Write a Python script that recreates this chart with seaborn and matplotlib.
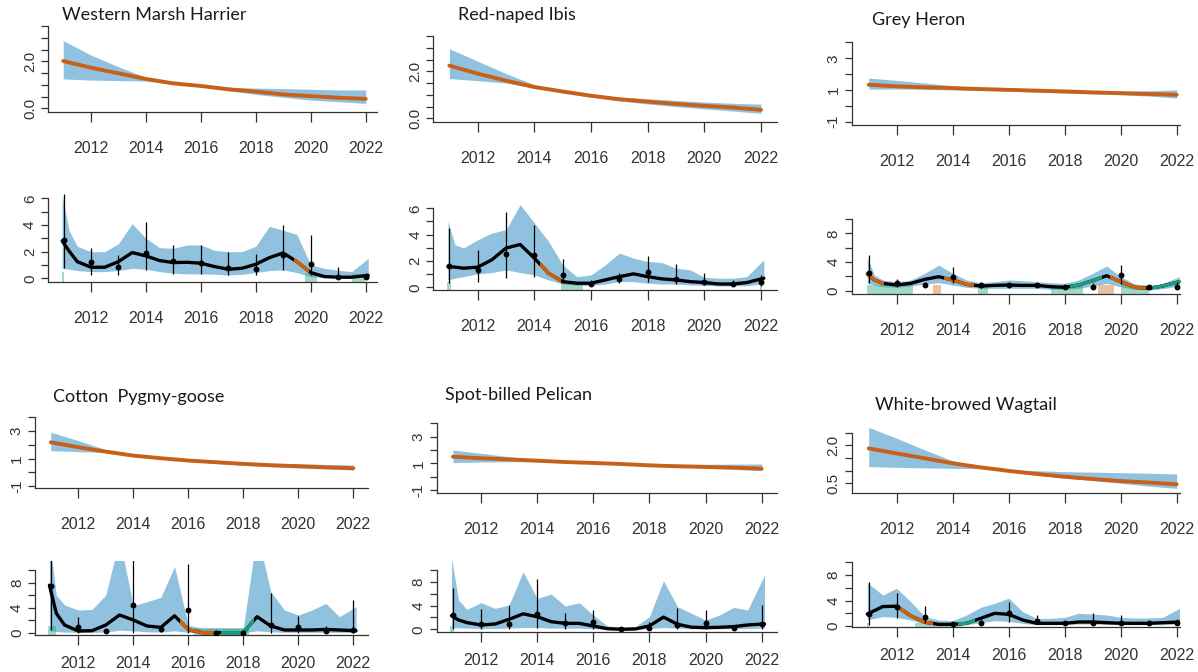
import matplotlib
matplotlib.use("Agg")
import matplotlib.pyplot as plt
from matplotlib.patches import Rectangle
import seaborn as sns

W, H = 1198, 672

# ---------------- data ----------------
TREND_YEARS = [2011, 2012, 2013, 2014, 2015, 2016, 2017, 2018, 2019, 2020, 2021, 2022]
OBS_YEARS = TREND_YEARS
SMOOTH_YEARS = [2010.95, 2011.2, 2011.5, 2012.0, 2012.5, 2013.0, 2013.5, 2014.0,
                2014.5, 2015.0, 2015.5, 2016.0, 2016.5, 2017.0, 2017.5, 2018.0,
                2018.5, 2019.0, 2019.5, 2020.0, 2020.5, 2021.0, 2021.5, 2022.1]
XTICKS = [2012, 2014, 2016, 2018, 2020, 2022]

SPECIES = ["Western Marsh Harrier", "Red-naped Ibis", "Grey Heron",
           "Cotton  Pygmy-goose", "Spot-billed Pelican", "White-browed Wagtail"]

# long-term trend panels
wmh_trend = [2.01, 1.73, 1.49, 1.25, 1.06, 0.95, 0.81, 0.71, 0.59, 0.52, 0.45, 0.40]
wmh_trend_hi = [2.88, 2.27, 1.77, 1.32, 1.10, 0.99, 0.89, 0.86, 0.84, 0.81, 0.78, 0.78]
wmh_trend_lo = [1.25, 1.20, 1.18, 1.16, 1.03, 0.92, 0.75, 0.59, 0.47, 0.35, 0.28, 0.21]

rni_trend = [2.24, 1.90, 1.60, 1.33, 1.14, 0.96, 0.81, 0.71, 0.61, 0.53, 0.46, 0.36]
rni_trend_hi = [2.96, 2.43, 1.90, 1.43, 1.19, 1.01, 0.90, 0.83, 0.76, 0.69, 0.64, 0.60]
rni_trend_lo = [1.69, 1.60, 1.50, 1.29, 1.07, 0.90, 0.74, 0.61, 0.50, 0.40, 0.31, 0.21]

gh_trend = [1.33, 1.23, 1.17, 1.12, 1.06, 1.01, 0.96, 0.91, 0.85, 0.80, 0.75, 0.70]
gh_trend_hi = [1.75, 1.61, 1.44, 1.27, 1.14, 1.06, 1.01, 0.97, 0.95, 0.93, 0.95, 1.01]
gh_trend_lo = [1.06, 1.06, 1.04, 1.01, 0.97, 0.93, 0.87, 0.80, 0.75, 0.70, 0.62, 0.49]

cpg_trend = [2.18, 1.82, 1.50, 1.21, 1.02, 0.85, 0.73, 0.61, 0.51, 0.44, 0.36, 0.29]
cpg_trend_hi = [2.91, 2.30, 1.65, 1.26, 1.04, 0.90, 0.80, 0.70, 0.65, 0.61, 0.57, 0.53]
cpg_trend_lo = [1.57, 1.50, 1.43, 1.16, 0.98, 0.80, 0.65, 0.51, 0.40, 0.31, 0.24, 0.17]

sbp_trend = [1.50, 1.38, 1.30, 1.20, 1.10, 1.03, 0.95, 0.85, 0.78, 0.73, 0.68, 0.60]
sbp_trend_hi = [2.00, 1.75, 1.50, 1.25, 1.12, 1.05, 1.00, 0.95, 0.94, 0.93, 0.94, 0.95]
sbp_trend_lo = [1.05, 1.10, 1.12, 1.12, 1.06, 1.00, 0.90, 0.80, 0.72, 0.65, 0.55, 0.45]

wbw_trend = [1.88, 1.68, 1.49, 1.29, 1.13, 0.99, 0.87, 0.76, 0.67, 0.59, 0.53, 0.46]
wbw_trend_hi = [2.71, 2.28, 1.82, 1.39, 1.16, 1.03, 1.00, 0.96, 0.94, 0.92, 0.90, 0.87]
wbw_trend_lo = [1.16, 1.13, 1.11, 1.09, 1.08, 0.96, 0.83, 0.70, 0.61, 0.50, 0.39, 0.30]

# smoothed index panels
wmh_smooth = [2.8, 2.05, 1.25, 0.83, 0.83, 1.25, 1.93, 1.68, 1.33, 1.18, 1.2, 1.13,
              0.88, 0.68, 0.75, 1.05, 1.55, 1.9, 1.25, 0.43, 0.13, 0.08, 0.08, 0.22]
wmh_smooth_hi = [6.2, 3.6, 2.4, 2.0, 2.0, 2.6, 4.1, 3.0, 2.3, 2.25, 2.5, 2.5,
                 2.1, 2.0, 2.0, 2.4, 3.9, 3.6, 3.3, 1.0, 0.75, 0.6, 0.5, 1.5]
wmh_smooth_lo = [0.75, 0.68, 0.58, 0.5, 0.5, 0.58, 0.75, 0.68, 0.5, 0.38, 0.33, 0.33,
                 0.3, 0.25, 0.3, 0.43, 0.58, 0.63, 0.43, 0.13, 0.05, 0.05, 0.05, 0.12]
wmh_obs = [2.88, 1.25, 0.83, 1.93, 1.3, 1.18, 0.75, 0.7, 1.75, 1.08, 0.08, 0.13]
wmh_obs_lo = [0.75, 0.25, 0.25, 0.63, 0.33, 0.33, 0.25, 0.25, 0.63, 0.25, 0.0, 0.0]
wmh_obs_hi = [6.3, 2.25, 1.75, 4.25, 2.5, 2.5, 2.0, 1.83, 4.0, 3.25, 0.83, 0.38]

rni_smooth = [1.58, 1.53, 1.45, 1.53, 2.09, 2.98, 3.25, 2.21, 1.07, 0.43, 0.31, 0.31,
              0.56, 0.81, 1.02, 0.81, 0.64, 0.56, 0.43, 0.36, 0.25, 0.25, 0.36, 0.69]
rni_smooth_hi = [5.01, 3.23, 2.98, 3.61, 4.12, 4.38, 6.28, 4.89, 3.49, 1.70, 0.81, 0.94,
                 1.70, 2.60, 2.21, 1.96, 1.88, 1.45, 1.32, 0.76, 0.69, 0.69, 0.81, 2.09]
rni_smooth_lo = [0.56, 0.69, 0.81, 1.02, 1.12, 1.32, 1.12, 0.94, 0.56, 0.25, 0.15, 0.15,
                 0.25, 0.43, 0.43, 0.31, 0.25, 0.25, 0.18, 0.15, 0.1, 0.1, 0.13, 0.25]
rni_obs = [1.63, 1.32, 2.55, 2.47, 0.94, 0.25, 0.64, 1.18, 0.64, 0.43, 0.25, 0.43]
rni_obs_lo = [0.36, 0.43, 0.69, 0.81, 0.31, 0.1, 0.31, 0.43, 0.25, 0.15, 0.1, 0.1]
rni_obs_hi = [4.5, 2.8, 5.7, 4.7, 2.15, 0.56, 1.1, 2.4, 1.8, 1.12, 0.56, 0.94]

gh_smooth = [2.33, 1.49, 1.02, 0.79, 1.02, 1.58, 1.95, 1.49, 0.88, 0.65, 0.74, 0.79,
             0.74, 0.74, 0.56, 0.47, 0.79, 1.4, 2.09, 1.26, 0.47, 0.33, 0.65, 1.26]
gh_smooth_hi = [4.65, 2.19, 1.49, 1.26, 1.49, 2.42, 3.58, 2.42, 1.49, 1.12, 1.26, 1.49,
                1.4, 1.26, 1.12, 1.02, 1.49, 2.42, 3.44, 1.95, 0.93, 0.65, 1.02, 1.95]
gh_smooth_lo = [1.02, 0.79, 0.56, 0.47, 0.65, 0.93, 1.12, 0.79, 0.47, 0.33, 0.33, 0.33,
                0.33, 0.33, 0.19, 0.19, 0.33, 0.65, 1.02, 0.56, 0.19, 0.09, 0.28, 0.65]
gh_obs = [2.42, 1.02, 0.79, 1.95, 0.79, 0.74, 0.74, 0.47, 0.56, 2.19, 0.47, 0.47]
gh_obs_lo = [1.02, 0.56, 0.47, 1.02, 0.33, 0.5, 0.5, 0.19, 0.19, 0.93, 0.19, 0.19]
gh_obs_hi = [4.98, 1.58, 1.26, 3.35, 1.26, 1.1, 1.1, 0.79, 1.02, 3.58, 0.79, 1.26]

cpg_smooth = [7.6, 3.1, 1.23, 0.27, 0.32, 1.23, 2.83, 2.03, 1.07, 0.85, 2.7, 0.5,
              0.0, 0.0, 0.0, 0.0, 2.56, 1.07, 0.43, 0.43, 0.43, 0.53, 0.43, 0.32]
cpg_smooth_hi = [15.0, 6.0, 4.43, 3.63, 3.73, 6.03, 15.0, 4.3, 4.96, 5.65, 10.6, 1.2,
                 0.7, 0.7, 0.7, 0.7, 16.0, 6.56, 3.63, 2.83, 3.63, 4.69, 2.56, 4.16]
cpg_smooth_lo = [0.3, 0.2, 0.1, 0.05, 0.05, 0.1, 0.4, 0.3, 0.15, 0.1, 0.3, 0.05,
                 0.0, 0.0, 0.0, 0.0, 0.3, 0.15, 0.05, 0.05, 0.05, 0.05, 0.05, 0.05]
cpg_obs = [7.47, 0.96, 0.32, 4.43, 0.53, 3.63, 0.0, 0.0, 1.23, 0.85, 0.32, 0.43]
cpg_obs_lo = [0.43, 0.0, 0.32, 0.0, 0.1, 0.0, 0.0, 0.0, 0.0, 0.0, 0.05, 0.0]
cpg_obs_hi = [12.0, 2.45, 0.32, 12.0, 1.07, 11.0, 0.0, 0.0, 6.4, 2.67, 1.07, 5.23]

sbp_smooth = [2.29, 1.56, 1.12, 0.73, 0.89, 1.68, 2.6, 2.12, 1.28, 1.0, 1.0, 0.55,
              0.1, 0.0, 0.06, 0.56, 2.05, 0.85, 0.35, 0.28, 0.34, 0.45, 0.73, 0.9]
sbp_smooth_hi = [12.0, 4.9, 3.35, 4.47, 3.52, 4.08, 9.66, 5.2, 5.92, 3.91, 4.47, 2.4,
                 0.56, 0.34, 0.45, 2.12, 8.16, 3.8, 2.68, 1.56, 2.4, 3.69, 3.24, 9.1]
sbp_smooth_lo = [0.3, 0.25, 0.2, 0.15, 0.15, 0.2, 0.3, 0.3, 0.2, 0.2, 0.2, 0.1,
                 0.02, 0.0, 0.02, 0.1, 0.3, 0.2, 0.1, 0.1, 0.1, 0.1, 0.15, 0.2]
sbp_obs = [2.4, 0.89, 0.84, 2.57, 1.0, 1.17, 0.0, 0.17, 0.73, 1.0, 0.17, 0.89]
sbp_obs_lo = [0.0, 0.0, 0.0, 0.17, 0.0, 0.0, 0.0, 0.0, 0.0, 0.0, 0.0, 0.0]
sbp_obs_hi = [6.87, 3.35, 4.08, 8.38, 2.79, 3.24, 0.0, 1.28, 3.52, 3.24, 0.56, 4.08]

wbw_smooth = [1.88, 2.4, 3.05, 3.1, 1.6, 0.6, 0.26, 0.26, 0.42, 1.2, 1.99, 1.83,
              0.94, 0.42, 0.42, 0.42, 0.63, 0.63, 0.52, 0.42, 0.42, 0.42, 0.52, 0.63]
wbw_smooth_hi = [6.8, 5.92, 4.87, 5.92, 3.82, 1.47, 0.94, 0.84, 1.73, 2.93, 3.56, 4.35,
                 2.25, 1.2, 1.2, 1.36, 1.99, 1.88, 1.73, 1.36, 1.26, 1.26, 1.36, 2.77]
wbw_smooth_lo = [0.94, 1.2, 1.47, 1.36, 0.94, 0.31, 0.1, 0.1, 0.21, 0.52, 0.84, 0.73,
                 0.42, 0.21, 0.21, 0.26, 0.31, 0.31, 0.26, 0.21, 0.21, 0.21, 0.21, 0.31]
wbw_obs = [1.83, 3.04, 1.47, 0.26, 0.52, 1.99, 0.84, 0.52, 0.52, 0.42, 0.42, 0.52]
wbw_obs_lo = [0.16, 1.2, 0.42, 0.26, 0.3, 0.68, 0.3, 0.3, 0.3, 0.16, 0.3, 0.16]
wbw_obs_hi = [6.96, 5.24, 3.14, 0.26, 0.9, 3.82, 1.73, 0.8, 1.99, 1.73, 0.6, 1.05]

# periods of significant decline / increase on the smoothed curve
wmh_down, wmh_up = [(2019.4, 2019.95)], []
rni_down, rni_up = [(2014.2, 2014.95)], []
gh_down = [(2010.9, 2011.55), (2013.7, 2014.75), (2019.6, 2020.9)]
gh_up = [(2018.2, 2019.35), (2021.0, 2022.2)]
cpg_down, cpg_up = [(2015.7, 2017.0)], [(2017.2, 2018.4)]
sbp_down, sbp_up = [], []
wbw_down, wbw_up = [(2012.0, 2013.3)], [(2014.2, 2014.8)]

# shaded periods at the bottom: (start, end, top, kind)
wmh_bars = [(2010.93, 2011.0, 0.45, "up"), (2019.8, 2020.25, 0.35, "up"), (2021.5, 2022.0, 0.35, "up")]
rni_bars = [(2010.9, 2011.05, 0.4, "up"), (2014.95, 2015.7, 0.3, "up"), (2021.97, 2022.05, 0.3, "up")]
gh_bars = [(2010.95, 2012.6, 0.8, "up"), (2013.3, 2013.6, 0.8, "down"), (2014.9, 2015.25, 0.8, "up"),
           (2017.5, 2018.65, 0.8, "up"), (2019.2, 2019.75, 0.8, "down"), (2020.0, 2021.0, 0.8, "up")]
cpg_bars = [(2010.9, 2011.2, 1.0, "up"), (2016.2, 2018.2, 0.7, "up")]
sbp_bars = [(2010.9, 2011.05, 0.5, "up")]
wbw_bars = [(2010.93, 2011.0, 0.5, "up"), (2012.65, 2014.35, 0.5, "up")]

# ---------------- style / layout ----------------
BLUE = "#90c2df"
TREND_ORANGE = "#c9601a"
ORANGE = "#d95f02"
GREEN = "#1b9e77"
BAR_COLORS = {"up": GREEN, "down": ORANGE}

sns.set_style("ticks")
plt.rcParams['font.family'] = ['Liberation Sans', 'DejaVu Sans']
XFONT = ['Liberation Sans Narrow', 'Liberation Sans', 'DejaVu Sans']

# pixel boxes (left, right, bottom, top) and pixel positions of reference values
LAYOUT = [
    dict(title=(62, 15),
         trend=((48, 377, 112, 22), ((2012, 90.7), (2022, 365.7)), ((0, 108.3), (3.5, 26))),
         smooth=((48, 377, 281.7, 194), ((2012, 91), (2022, 365.5)), ((0, 278.3), (6, 198.3)))),
    dict(title=(458, 15),
         trend=((433.3, 777, 121.7, 32), ((2012, 477.7), (2022, 761)), ((0, 118.3), (3.5, 36))),
         smooth=((433.3, 777, 290, 203), ((2012, 477.7), (2022, 761)), ((0, 287.3), (6, 208.3)))),
    dict(title=(871.7, 20),
         trend=((851.7, 1180, 125, 38), ((2012, 896.7), (2022, 1176.7)), ((-1, 121.7), (3, 58.3))),
         smooth=((851.7, 1180, 294, 217), ((2012, 896.7), (2022, 1176.7)), ((0, 290.7), (8, 233.3)))),
    dict(title=(53, 396.7),
         trend=((35, 368.3, 488.3, 413), ((2012, 78.3), (2022, 353.3)), ((-1, 486), (3, 431))),
         smooth=((35, 368.3, 635, 560.7), ((2012, 78.3), (2022, 353.3)), ((0, 632.7), (8, 582.7)))),
    dict(title=(445, 395),
         trend=((436.7, 777, 492.7, 420), ((2012, 481), (2022, 761.7)), ((-1, 490), (3, 436.7))),
         smooth=((436.7, 777, 631.7, 560.7), ((2012, 481), (2022, 761.7)), ((0, 629.3), (8, 581.7)))),
    dict(title=(875, 405),
         trend=((851.7, 1180, 492.7, 423), ((2012, 896.7), (2022, 1176.7)), ((0.5, 483.3), (2.5, 432.7))),
         smooth=((851.7, 1180, 627.3, 560), ((2012, 896.7), (2022, 1176.7)), ((0, 626), (8, 575)))),
]

TREND_YTICKS = [
    ([0, 0.5, 1, 1.5, 2, 2.5, 3, 3.5], {0: "0.0", 2: "2.0"}),
    ([0, 0.5, 1, 1.5, 2, 2.5, 3, 3.5], {0: "0.0", 2: "2.0"}),
    ([-1, 0, 1, 2, 3, 4], {-1: "-1", 1: "1", 3: "3"}),
    ([-1, 0, 1, 2, 3, 4], {-1: "-1", 1: "1", 3: "3"}),
    ([-1, 0, 1, 2, 3, 4], {-1: "-1", 1: "1", 3: "3"}),
    ([0.5, 1, 1.5, 2, 2.5], {0.5: "0.5", 2: "2.0"}),
]
SMOOTH_YTICKS = [
    ([0, 1, 2, 3, 4, 5, 6], {0: "0", 2: "2", 4: "4", 6: "6"}),
    ([0, 1, 2, 3, 4, 5, 6], {0: "0", 2: "2", 4: "4", 6: "6"}),
    ([0, 2, 4, 6, 8, 10], {0: "0", 4: "4", 8: "8"}),
    ([0, 2, 4, 6, 8, 10], {0: "0", 4: "4", 8: "8"}),
    ([0, 2, 4, 6, 8, 10], {0: "0", 4: "4", 8: "8"}),
    ([0, 2, 4, 6, 8, 10], {0: "0", 4: "4", 8: "8"}),
]

TRENDS = [
    (wmh_trend, wmh_trend_lo, wmh_trend_hi),
    (rni_trend, rni_trend_lo, rni_trend_hi),
    (gh_trend, gh_trend_lo, gh_trend_hi),
    (cpg_trend, cpg_trend_lo, cpg_trend_hi),
    (sbp_trend, sbp_trend_lo, sbp_trend_hi),
    (wbw_trend, wbw_trend_lo, wbw_trend_hi),
]
SMOOTHS = [
    (wmh_smooth, wmh_smooth_lo, wmh_smooth_hi, wmh_obs, wmh_obs_lo, wmh_obs_hi, wmh_down, wmh_up, wmh_bars),
    (rni_smooth, rni_smooth_lo, rni_smooth_hi, rni_obs, rni_obs_lo, rni_obs_hi, rni_down, rni_up, rni_bars),
    (gh_smooth, gh_smooth_lo, gh_smooth_hi, gh_obs, gh_obs_lo, gh_obs_hi, gh_down, gh_up, gh_bars),
    (cpg_smooth, cpg_smooth_lo, cpg_smooth_hi, cpg_obs, cpg_obs_lo, cpg_obs_hi, cpg_down, cpg_up, cpg_bars),
    (sbp_smooth, sbp_smooth_lo, sbp_smooth_hi, sbp_obs, sbp_obs_lo, sbp_obs_hi, sbp_down, sbp_up, sbp_bars),
    (wbw_smooth, wbw_smooth_lo, wbw_smooth_hi, wbw_obs, wbw_obs_lo, wbw_obs_hi, wbw_down, wbw_up, wbw_bars),
]


def make_axes(fig, box, xref, yref):
    x0, x1, yb, yt = box
    ax = fig.add_axes([x0 / W, 1 - yb / H, (x1 - x0) / W, (yb - yt) / H])
    (ya, pa), (yz, pz) = xref
    kx = (yz - ya) / (pz - pa)
    ax.set_xlim(ya + (x0 - pa) * kx, ya + (x1 - pa) * kx)
    (va, qa), (vz, qz) = yref
    ky = (vz - va) / (qa - qz)
    ax.set_ylim(va + (qa - yb) * ky, va + (qa - yt) * ky)
    return ax


def style_axes(ax, yticks, ylabels, xpad=14):
    ax.set_xticks(XTICKS)
    ax.set_xticklabels([str(t) for t in XTICKS], fontfamily=XFONT, fontsize=11.5,
                       color="#333333")
    ax.set_yticks(yticks)
    ax.set_yticklabels([ylabels.get(t, "") for t in yticks], rotation=90,
                       va="center", fontsize=11, color="#333333")
    ax.tick_params(axis="x", length=7, width=0.9, pad=xpad, color="#333333")
    ax.tick_params(axis="y", length=5, width=0.9, pad=3, color="#333333")
    for side in ["top", "right"]:
        ax.spines[side].set_visible(False)
    for side in ["left", "bottom"]:
        ax.spines[side].set_linewidth(0.9)
        ax.spines[side].set_color("#333333")
    ax.spines["left"].set_bounds(ax.get_ylim()[0], yticks[-1])
    ax.set_xlabel("")
    ax.set_ylabel("")


def draw_trend(ax, line, lo, hi):
    ax.fill_between(TREND_YEARS, lo, hi, color=BLUE, lw=0, zorder=1)
    sns.lineplot(x=TREND_YEARS, y=line, ax=ax, color=TREND_ORANGE, lw=2.8, zorder=3)


def draw_smooth(ax, line, lo, hi, obs, obs_lo, obs_hi, down, up, bars):
    y0, y1 = ax.get_ylim()
    ax.fill_between(SMOOTH_YEARS, lo, hi, color=BLUE, lw=0, zorder=1)
    for start, end, top, kind in bars:
        ax.add_patch(Rectangle((start, y0), end - start, top - y0, color=BAR_COLORS[kind],
                               alpha=0.4, lw=0, zorder=2))
    sns.lineplot(x=SMOOTH_YEARS, y=line, ax=ax, color="black", lw=2.4, zorder=3)
    for segs, col in ((down, ORANGE), (up, GREEN)):
        for start, end in segs:
            sns.lineplot(x=SMOOTH_YEARS, y=line, ax=ax, color=col, lw=2.4, zorder=4)
            clip = Rectangle((start, y0), end - start, y1 - y0, transform=ax.transData)
            ax.lines[-1].set_clip_path(clip)
    ax.vlines(OBS_YEARS, obs_lo, obs_hi, color="black", lw=0.9, zorder=5)
    sns.scatterplot(x=OBS_YEARS, y=obs, ax=ax, color="black", s=18, linewidth=0, zorder=6)


fig = plt.figure(figsize=(W / 100, H / 100), dpi=100)
fig.patch.set_facecolor("white")

for i, name in enumerate(SPECIES):
    lay = LAYOUT[i]
    ax_t = make_axes(fig, *lay["trend"])
    draw_trend(ax_t, *TRENDS[i])
    style_axes(ax_t, *TREND_YTICKS[i])

    ax_s = make_axes(fig, *lay["smooth"])
    draw_smooth(ax_s, *SMOOTHS[i])
    # bottom row: keep the year labels inside the picture
    style_axes(ax_s, *SMOOTH_YTICKS[i], xpad=14 if i < 3 else 8)

    tx, ty = lay["title"]
    fig.text(tx / W, 1 - ty / H, name, ha="left", va="center", fontsize=13,
             family=["Lato", "DejaVu Sans"], color="#1a1a1a")

fig.savefig("out.png", dpi=100, facecolor="white")
